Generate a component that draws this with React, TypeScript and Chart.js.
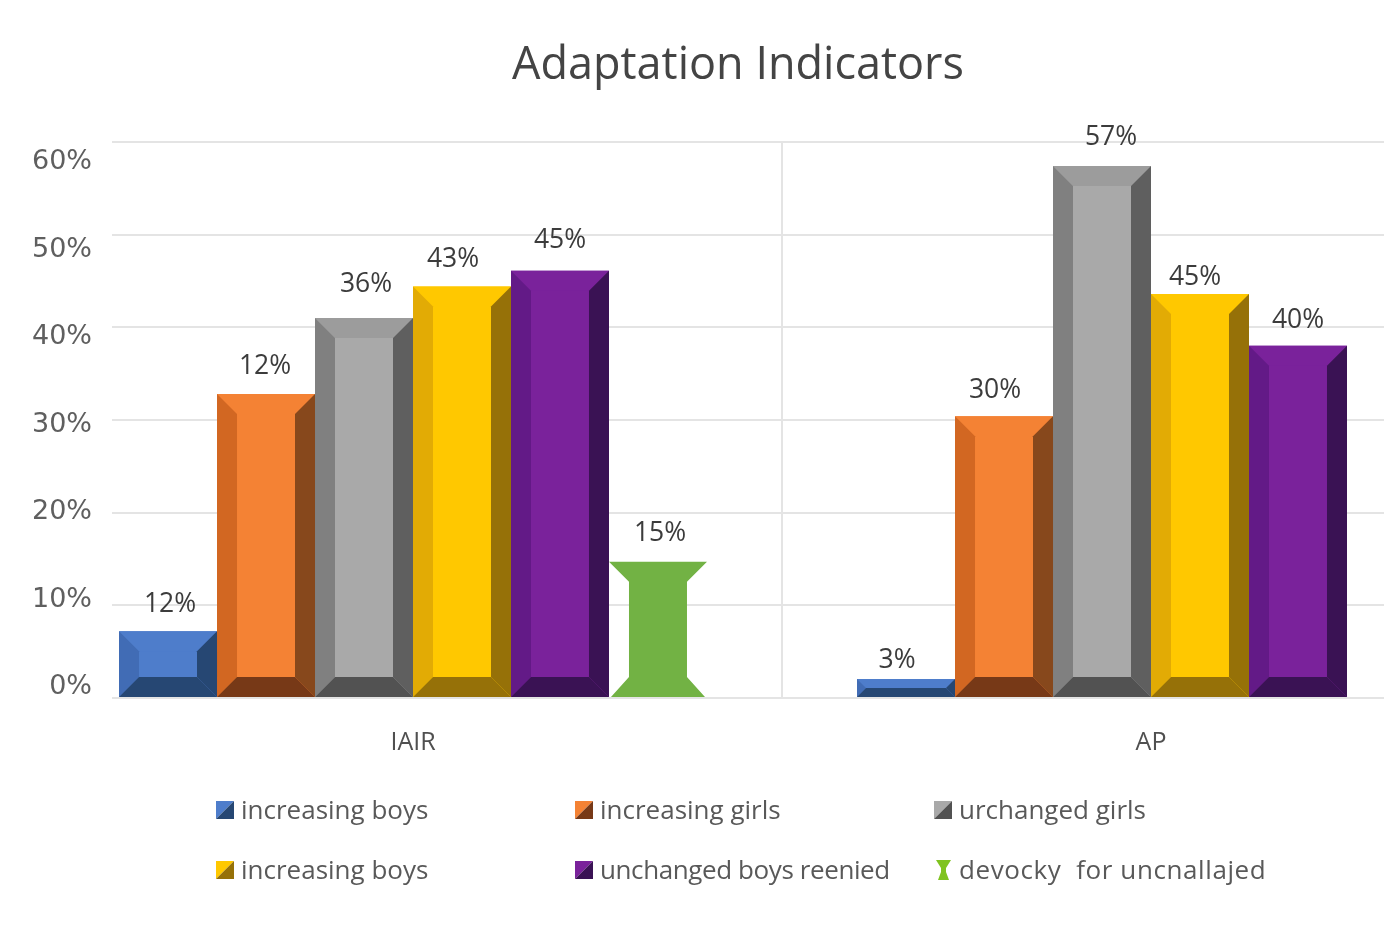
import React, { useEffect, useRef } from "react";
import { Chart, registerables } from "chart.js";

Chart.register(...registerables);

const chartTitle = "Adaptation Indicators";
const categories = ["IAIR", "AP"];
const yTickValues = [0, 10, 20, 30, 40, 50, 60];

const seriesNames = [
  "increasing boys",
  "increasing girls",
  "urchanged girls",
  "increasing boys",
  "unchanged boys reenied",
  "devocky  for uncnallajed",
];

const blueValues = [7.2, 2.05];
const orangeValues = [32.8, 30.4];
const grayValues = [41, 57.4];
const yellowValues = [44.4, 43.6];
const purpleValues = [46.1, 38];
const greenValues = [14.7, null];

const blueLabels = ["12%", "3%"];
const orangeLabels = ["12%", "30%"];
const grayLabels = ["36%", "57%"];
const yellowLabels = ["43%", "45%"];
const purpleLabels = ["45%", "40%"];
const greenLabels = ["15%", ""];

const seriesValues = [blueValues, orangeValues, grayValues, yellowValues, purpleValues, greenValues];
const seriesLabels = [blueLabels, orangeLabels, grayLabels, yellowLabels, purpleLabels, greenLabels];

// face, top, left, right, bottom
const bevelColors = [
  ["#4e7dcb", "#4e7dcb", "#416cb5", "#264773", "#264773"],
  ["#f48234", "#f48234", "#d26722", "#87481c", "#773917"],
  ["#a9a9a9", "#9c9c9c", "#808080", "#5f5f5f", "#525252"],
  ["#ffc800", "#ffc800", "#e2ab05", "#967108", "#967108"],
  ["#7a229b", "#7a229b", "#631a87", "#3a1254", "#3a1254"],
  ["#72b244", "#72b244", "#72b244", "#72b244", "#72b244"],
];

// Small per-label placement corrections, in pixels (series, then category)
const labelShiftX = [[2, -9], [-1, -9], [2, 9], [-9, -5], [0, 0], [2, 0]];
const labelShiftY = [[2, 10], [1, 3], [-5, 0], [2, 12], [-1, 4], [1, 0]];
const legendSpacing = ["0px", "0px", "0px", "0px", "-0.4px", "0.6px"];

const BEVEL = 20;
const HOURGLASS_INDEX = 5;
const TEXT_FONT = '"Open Sans", sans-serif';

function poly(ctx: CanvasRenderingContext2D, color: string, pts: number[][]) {
  ctx.fillStyle = color;
  ctx.beginPath();
  pts.forEach(([x, y], i) => (i ? ctx.lineTo(x, y) : ctx.moveTo(x, y)));
  ctx.closePath();
  ctx.fill();
}

function paintBevel(ctx: CanvasRenderingContext2D, colors: string[], l: number, r: number, t: number, b: number) {
  const [face, top, left, right, bottom] = colors;
  const d = Math.min(BEVEL, (b - t) / 2);
  const h = d;
  poly(ctx, face, [[l, t], [r, t], [r, b], [l, b]]);
  poly(ctx, top, [[l, t], [r, t], [r - h, t + d], [l + h, t + d]]);
  poly(ctx, left, [[l, t], [l + h, t + d], [l + h, b - d], [l, b]]);
  poly(ctx, right, [[r, t], [r - h, t + d], [r - h, b - d], [r, b]]);
  poly(ctx, bottom, [[l, b], [l + h, b - d], [r - h, b - d], [r, b]]);
}

function paintHourglass(ctx: CanvasRenderingContext2D, color: string, l: number, r: number, t: number, b: number, inset: number, flare: number) {
  poly(ctx, color, [
    [l, t], [r, t], [r - inset, t + flare], [r - inset, b - flare], [r - 2, b],
    [l + 2, b], [l + inset, b - flare], [l + inset, t + flare],
  ]);
}

const bevelBars = {
  id: "bevelBars",
  beforeDatasetDraw(chart: any, args: any) {
    const ctx = chart.ctx;
    const i = args.index;
    args.meta.data.forEach((bar: any, j: number) => {
      if (seriesValues[i][j] == null) return;
      const { x, y, base, width } = bar.getProps(["x", "y", "base", "width"], true);
      const l = x - width / 2;
      const r = x + width / 2;
      if (i === HOURGLASS_INDEX) paintHourglass(ctx, bevelColors[i][0], l, r, y, base, BEVEL, BEVEL);
      else paintBevel(ctx, bevelColors[i], l, r, y, base);
    });
    return false;
  },
};

const barLabels = {
  id: "barLabels",
  afterDatasetsDraw(chart: any) {
    const ctx = chart.ctx;
    ctx.save();
    ctx.font = `26.5px ${TEXT_FONT}`;
    ctx.fillStyle = "#3c3c3c";
    ctx.textAlign = "center";
    ctx.textBaseline = "middle";
    chart.data.datasets.forEach((_: any, i: number) => {
      chart.getDatasetMeta(i).data.forEach((bar: any, j: number) => {
        const text = seriesLabels[i][j];
        if (text) ctx.fillText(text, bar.x + labelShiftX[i][j], bar.y - 29 + labelShiftY[i][j]);
      });
    });
    ctx.restore();
  },
};

const LEGEND_COLS = [216, 575, 934];
const LEGEND_ROWS = [810, 870];
const LEGEND_ICON = 18;

const sideLegend = {
  id: "sideLegend",
  afterDraw(chart: any) {
    const ctx = chart.ctx;
    ctx.save();
    ctx.font = `26px ${TEXT_FONT}`;
    ctx.textAlign = "left";
    ctx.textBaseline = "middle";
    chart.data.datasets.forEach((ds: any, i: number) => {
      const x = LEGEND_COLS[i % 3];
      const yc = LEGEND_ROWS[Math.floor(i / 3)];
      const t = yc - LEGEND_ICON / 2;
      const b = t + LEGEND_ICON;
      const r = x + LEGEND_ICON;
      const c = bevelColors[i];
      if (i === HOURGLASS_INDEX) {
        paintHourglass(ctx, "#7fc31f", x + 2, x + 17, t - 1, b + 1, 5, 8);
      } else {
        poly(ctx, c[0], [[x, t], [r, t], [x, b]]);
        poly(ctx, c[4], [[r, t], [r, b], [x, b]]);
      }
      ctx.fillStyle = "#595959";
      (ctx as any).letterSpacing = legendSpacing[i];
      ctx.fillText(ds.label, x + 25, yc + 2);
      (ctx as any).letterSpacing = "0px";
    });
    ctx.restore();
  },
};

const placeBoxes = {
  id: "placeBoxes",
  afterLayout(chart: any) {
    const x = chart.scales.x;
    x.left = 44;
    x.right = 1520;
    x.width = 1476;
    x.configure();
    chart.titleBlock.left = 92;
  },
};

export default function App() {
  const ref = useRef<HTMLCanvasElement>(null);

  useEffect(() => {
    const chart = new Chart(ref.current!, {
      type: "bar",
      data: {
        labels: categories,
        datasets: seriesNames.map((label, i) => ({
          label,
          data: seriesValues[i],
          backgroundColor: bevelColors[i][0],
          yAxisID: "y",
          clip: false as any,
        })),
      },
      options: {
        animation: false,
        responsive: false,
        devicePixelRatio: 1,
        layout: { padding: { top: 0, left: 0, right: 0, bottom: 167 } },
        datasets: { bar: { categoryPercentage: 0.7967, barPercentage: 1 } },
        plugins: {
          legend: { display: false },
          tooltip: { enabled: false },
          title: {
            display: true,
            text: chartTitle,
            color: "#444444",
            font: { family: TEXT_FONT, size: 45, weight: "normal", lineHeight: 1.2 },
            padding: { top: 39, bottom: 49 },
          },
        },
        scales: {
          y2: {
            position: "left",
            min: -1.25,
            max: 62.3,
            grid: { display: false },
            border: { display: false },
            afterBuildTicks: (axis: any) => {
              axis.ticks = yTickValues.map((value) => ({ value }));
            },
            afterFit: (axis: any) => {
              axis.width = 112;
            },
            ticks: {
              padding: 12,
              color: "#5f5f5f",
              font: { family: '"DejaVu Sans", sans-serif', size: 27 },
              callback: (v: any) => `${v}%`,
            },
          },
          y: {
            position: "left",
            min: 0,
            max: 60,
            grid: { color: "#e4e4e4", lineWidth: 2, drawTicks: false },
            border: { display: false },
            ticks: { display: false, stepSize: 10 },
            afterFit: (axis: any) => {
              axis.width = 0;
            },
          },
          x: {
            grid: {
              color: (c: any) => (c.index === 1 ? "#e4e4e4" : "rgba(0,0,0,0)"),
              lineWidth: 2,
              drawTicks: false,
            },
            border: { display: false },
            afterFit: (axis: any) => {
              axis.height = 60;
            },
            ticks: {
              padding: 30,
              color: "#505050",
              maxRotation: 0,
              autoSkip: false,
              font: { family: TEXT_FONT, size: 25 },
            },
          },
        },
      },
      plugins: [placeBoxes, bevelBars, barLabels, sideLegend],
    } as any);
    return () => chart.destroy();
  }, []);

  return (
    <div style={{ position: "fixed", left: 0, top: 0, width: 1384, height: 925, overflow: "hidden", background: "#fff" }}>
      <canvas ref={ref} width={1384} height={925} style={{ display: "block" }} />
    </div>
  );
}
